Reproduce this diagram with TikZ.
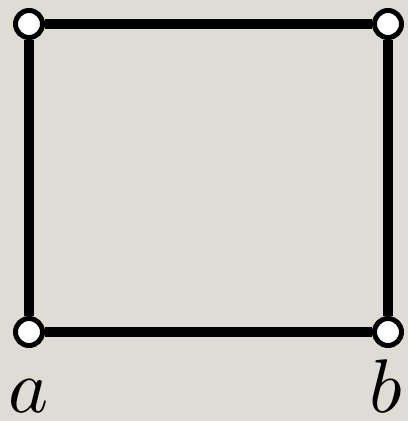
\documentclass[tikz,border=0pt]{standalone}
\usepackage{tikz}
\usetikzlibrary{positioning}
\definecolor{paper}{RGB}{223,220,214}
\begin{document}
\begin{tikzpicture}[x=1pt,y=-1pt,
  vtx/.style={circle,draw=black,fill=white,line width=5pt,minimum size=27pt,inner sep=0pt},
  edge/.style={line width=10pt},
  lbl/.style={anchor=base,inner sep=0pt,scale=7.6}]
\fill[paper] (0,0) rectangle (408,421);
\useasboundingbox (0,0) rectangle (408,421);
\node[vtx] (tl) at (29,24) {};
\node[vtx] (tr) at (388,24) {};
\node[vtx] (bl) at (29,332) {};
\node[vtx] (br) at (388,332) {};
\draw[edge] (tl)--(tr) (tr)--(br) (br)--(bl) (bl)--(tl);
\node[lbl] (la) at (29,412) {$a$};
\node[lbl] (lb) at (386,412) {$b$};
\end{tikzpicture}
\end{document}
